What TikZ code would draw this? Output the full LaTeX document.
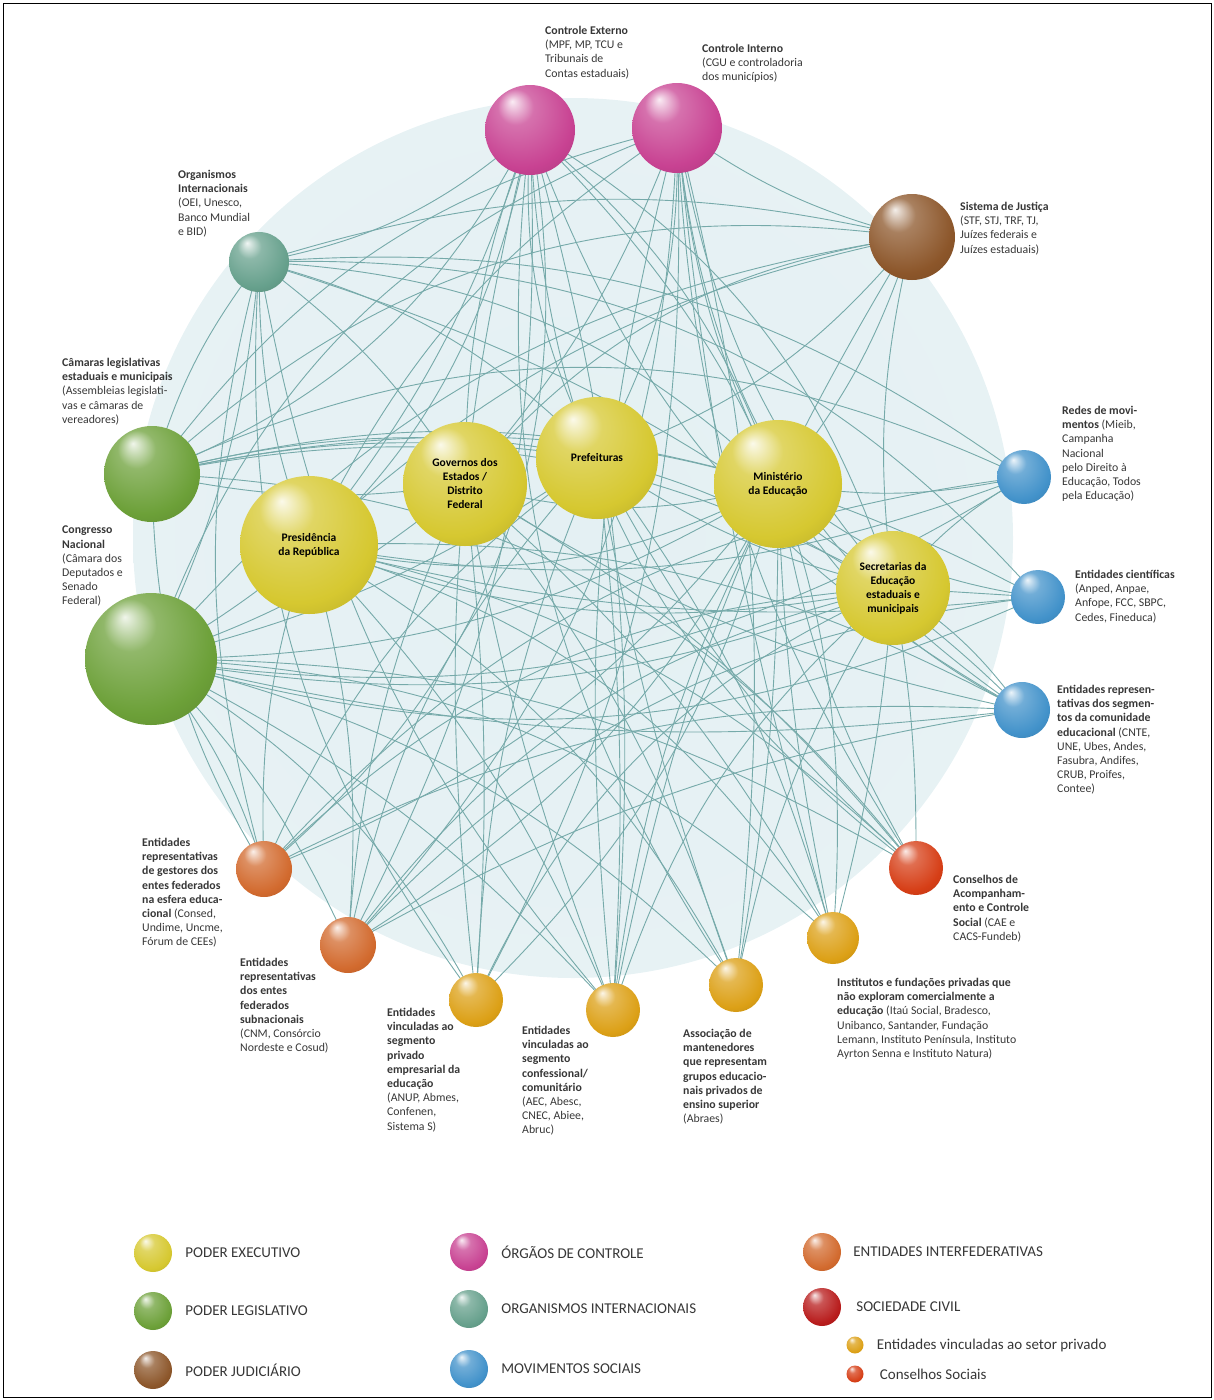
\documentclass[tikz,border=0pt]{standalone}
\usepackage{fontspec}
\setmainfont{Carlito}
\usetikzlibrary{positioning,backgrounds}

\definecolor{linkcol}{RGB}{118,170,170}
\definecolor{haloblue}{RGB}{228,240,243}
\definecolor{cYel}{RGB}{214,200,48}
\definecolor{cMag}{RGB}{200,66,146}
\definecolor{cTea}{RGB}{102,160,140}
\definecolor{cBrn}{RGB}{140,86,42}
\definecolor{cGrn}{RGB}{108,160,56}
\definecolor{cBlu}{RGB}{66,146,202}
\definecolor{cCon}{RGB}{214,62,22}
\definecolor{cGld}{RGB}{220,160,22}
\definecolor{cOrg}{RGB}{210,106,46}
\definecolor{cRed}{RGB}{184,28,28}
\definecolor{txtgray}{RGB}{55,55,55}

% shaded globes
\colorlet{globecol}{cYel}
\pgfdeclareradialshading[globecol]{globe}{\pgfqpoint{-10bp}{16bp}}{%
  color(0bp)=(globecol!10!white);
  color(10bp)=(globecol!75!white);
  color(28bp)=(globecol);
  color(50bp)=(globecol!72!black)}
\pgfdeclareradialshading{halo}{\pgfqpoint{0bp}{0bp}}{%
  color(0bp)=(haloblue); color(34bp)=(haloblue!85!white); color(50bp)=(white)}

\tikzset{
  sph/.style={circle, inner sep=0pt, shading=globe, /utils/exec={\colorlet{globecol}{#1}}},
  link/.style={draw=linkcol, line width=0.9pt},
  lbl/.style={anchor=north west, align=left, inner sep=0pt, text=txtgray,
    font=\fontsize{11.8}{14.2}\selectfont},
  ctr/.style={align=center, text=black, font=\bfseries\fontsize{11.5}{14}\selectfont},
  legtxt/.style={inner sep=0pt, text=txtgray, font=\fontsize{15}{17}\selectfont}
}

\begin{document}
\begin{tikzpicture}[x=1pt, y=-1pt]
\useasboundingbox (0,0) rectangle (1214,1400);

% network spheres
\node[sph=cMag, minimum size=90pt] (ce) at (530,130) {};
\node[sph=cMag, minimum size=90pt] (ci) at (677,128) {};
\node[sph=cTea, minimum size=60pt] (oi) at (259,262) {};
\node[sph=cBrn, minimum size=86pt] (sj) at (912,237) {};
\node[sph=cGrn, minimum size=96pt] (cl) at (152,474) {};
\node[sph=cGrn, minimum size=132pt] (cn) at (151,659) {};
\node[sph=cYel, minimum size=138pt, ctr] (pr) at (309,545) {Presidência\\da República};
\node[sph=cYel, minimum size=124pt, ctr] (ge) at (465,484) {Governos dos\\Estados /\\Distrito\\Federal};
\node[sph=cYel, minimum size=122pt, ctr] (pf) at (597,458) {Prefeituras};
\node[sph=cYel, minimum size=128pt, ctr] (me) at (778,484) {Ministério\\da Educação};
\node[sph=cYel, minimum size=114pt, ctr] (se) at (893,588) {Secretarias da\\Educação\\estaduais e\\municipais};
\node[sph=cBlu, minimum size=54pt] (rm) at (1024,477) {};
\node[sph=cBlu, minimum size=54pt] (ec) at (1038,597) {};
\node[sph=cBlu, minimum size=56pt] (er) at (1022,710) {};
\node[sph=cCon, minimum size=54pt] (cs) at (916,868) {};
\node[sph=cGld, minimum size=52pt] (ins) at (833,938) {};
\node[sph=cGld, minimum size=54pt] (am) at (736,985) {};
\node[sph=cGld, minimum size=54pt] (ev) at (613,1010) {};
\node[sph=cGld, minimum size=54pt] (ep) at (476,1000) {};
\node[sph=cOrg, minimum size=56pt] (es) at (348,945) {};
\node[sph=cOrg, minimum size=56pt] (eg) at (264,869) {};

% links behind the spheres
\begin{pgfonlayer}{background}
  \shade[shading=halo] (573,538) circle[radius=440];
  \foreach \a/\b/\k in {ce/cl/20, ce/cn/25, ce/pr/10, ce/ge/-10, ce/pf/-15, ce/me/15,
      ce/se/20, ce/ep/-10, ce/ev/10, ce/am/-20, ce/ins/25, ce/eg/30, ce/es/15,
      ce/cs/-25, ce/oi/15, ce/er/-20,
      ci/cn/-25, ci/cl/-20, ci/pr/-15, ci/ge/10, ci/pf/15, ci/me/-10, ci/se/-15,
      ci/ev/-10, ci/am/10, ci/ins/-5, ci/es/20, ci/cs/-15, ci/er/-25, ci/sj/-10, ci/ep/15,
      oi/cl/-10, oi/cn/10, oi/pr/-10, oi/ge/10, oi/pf/15, oi/me/20, oi/se/10,
      oi/ec/25, oi/rm/20, oi/sj/15, oi/ep/-20, oi/ev/-15, oi/eg/-15,
      sj/cn/-20, sj/cl/-25, sj/pr/-15, sj/me/10, sj/se/-10, sj/pf/15, sj/ge/-20, sj/ev/-10,
      cl/se/20, cl/rm/25, cl/me/15, cl/pf/10, cl/ge/-10, cl/er/30, cl/eg/-15, cl/ec/20, cl/cs/25,
      cn/se/-15, cn/er/-10, cn/ec/-20, cn/cs/15, cn/ins/20, cn/am/15, cn/ev/10, cn/ep/15,
      cn/es/10, cn/eg/10, cn/me/-15, cn/pf/-10, cn/ge/-10, cn/rm/-20,
      pr/me/-20, pr/se/-15, pr/er/15, pr/ins/20, pr/am/15, pr/ev/10, pr/es/10, pr/eg/-10, pr/cs/15,
      ge/me/-15, ge/am/10, ge/ev/-5, ge/ep/5, ge/cs/10, ge/es/-10, ge/ins/10, ge/er/-10,
      pf/ev/5, pf/am/-5, pf/ep/-10, pf/ins/10, pf/cs/-10, pf/es/-15, pf/eg/-15, pf/se/-10,
      me/ev/-10, me/am/5, me/ep/15, me/es/15, me/eg/15, me/ins/-5, me/cs/-10, me/rm/-10,
      me/ec/-15, me/er/-15,
      se/ev/-15, se/ep/-20, se/es/-20, se/eg/-20, se/am/-10, se/ins/5, se/cs/5, se/rm/10,
      se/ec/0, se/er/10,
      rm/eg/-20, ec/es/-20, er/eg/-15, er/es/-10, rm/pr/15, ec/pr/10}
    \draw[link] (\a.center) to[bend left=\k] (\b.center);
\end{pgfonlayer}

% labels round the circle
\node[lbl] (ce-t) at (545,26) {\textbf{Controle Externo}\\(MPF, MP, TCU e\\Tribunais de\\Contas estaduais)};
\node[lbl] (ci-t) at (702,44) {\textbf{Controle Interno}\\(CGU e controladoria\\dos municípios)};
\node[lbl] (oi-t) at (178,170) {\textbf{Organismos}\\\textbf{Internacionais}\\(OEI, Unesco,\\Banco Mundial\\e BID)};
\node[lbl] (sj-t) at (960,202) {\textbf{Sistema de Justiça}\\(STF, STJ, TRF, TJ,\\Juízes federais e\\Juízes estaduais)};
\node[lbl] (cl-t) at (62,358) {\textbf{Câmaras legislativas}\\\textbf{estaduais e municipais}\\(Assembleias legislati-\\vas e câmaras de\\vereadores)};
\node[lbl] (cn-t) at (62,526) {\textbf{Congresso}\\\textbf{Nacional}\\(Câmara dos\\Deputados e\\Senado\\Federal)};
\node[lbl] (rm-t) at (1062,406) {\textbf{Redes de movi-}\\\textbf{mentos} (Mieib,\\Campanha\\Nacional\\pelo Direito à\\Educação, Todos\\pela Educação)};
\node[lbl] (ec-t) at (1075,570) {\textbf{Entidades científicas}\\(Anped, Anpae,\\Anfope, FCC, SBPC,\\Cedes, Fineduca)};
\node[lbl] (er-t) at (1057,685) {\textbf{Entidades represen-}\\\textbf{tativas dos segmen-}\\\textbf{tos da comunidade}\\\textbf{educacional} (CNTE,\\UNE, Ubes, Andes,\\Fasubra, Andifes,\\CRUB, Proifes,\\Contee)};
\node[lbl] (cs-t) at (953,875) {\textbf{Conselhos de}\\\textbf{Acompanham-}\\\textbf{ento e Controle}\\\textbf{Social} (CAE e\\CACS-Fundeb)};
\node[lbl] (ins-t) at (837,978) {\textbf{Institutos e fundações privadas que}\\\textbf{não exploram comercialmente a}\\\textbf{educação} (Itaú Social, Bradesco,\\Unibanco, Santander, Fundação\\Lemann, Instituto Península, Instituto\\Ayrton Senna e Instituto Natura)};
\node[lbl] (am-t) at (683,1029) {\textbf{Associação de}\\\textbf{mantenedores}\\\textbf{que representam}\\\textbf{grupos educacio-}\\\textbf{nais privados de}\\\textbf{ensino superior}\\(Abraes)};
\node[lbl] (ev-t) at (522,1026) {\textbf{Entidades}\\\textbf{vinculadas ao}\\\textbf{segmento}\\\textbf{confessional/}\\\textbf{comunitário}\\(AEC, Abesc,\\CNEC, Abiee,\\Abruc)};
\node[lbl] (ep-t) at (387,1008) {\textbf{Entidades}\\\textbf{vinculadas ao}\\\textbf{segmento}\\\textbf{privado}\\\textbf{empresarial da}\\\textbf{educação}\\(ANUP, Abmes,\\Confenen,\\Sistema S)};
\node[lbl] (es-t) at (240,958) {\textbf{Entidades}\\\textbf{representativas}\\\textbf{dos entes}\\\textbf{federados}\\\textbf{subnacionais}\\(CNM, Consórcio\\Nordeste e Cosud)};
\node[lbl] (eg-t) at (142,838) {\textbf{Entidades}\\\textbf{representativas}\\\textbf{de gestores dos}\\\textbf{entes federados}\\\textbf{na esfera educa-}\\\textbf{cional} (Consed,\\Undime, Uncme,\\Fórum de CEEs)};

% legend
\node[sph=cYel, minimum size=38pt] (lg-yel) at (153,1253) {};
\node[legtxt, right=13pt of lg-yel] (lg-yel-t) {PODER EXECUTIVO};
\node[sph=cGrn, minimum size=38pt] (lg-grn) at (153,1311) {};
\node[legtxt, right=13pt of lg-grn] (lg-grn-t) {PODER LEGISLATIVO};
\node[sph=cBrn, minimum size=38pt] (lg-brn) at (153,1370) {};
\node[legtxt, right=13pt of lg-brn] (lg-brn-t) {PODER JUDICIÁRIO};
\node[sph=cMag, minimum size=38pt] (lg-mag) at (469,1252) {};
\node[legtxt, right=13pt of lg-mag] (lg-mag-t) {ÓRGÃOS DE CONTROLE};
\node[sph=cTea, minimum size=38pt] (lg-tea) at (469,1309) {};
\node[legtxt, right=13pt of lg-tea] (lg-tea-t) {ORGANISMOS INTERNACIONAIS};
\node[sph=cBlu, minimum size=38pt] (lg-blu) at (469,1369) {};
\node[legtxt, right=13pt of lg-blu] (lg-blu-t) {MOVIMENTOS SOCIAIS};
\node[sph=cOrg, minimum size=38pt] (lg-org) at (822,1252) {};
\node[legtxt, right=12pt of lg-org] (lg-org-t) {ENTIDADES INTERFEDERATIVAS};
\node[sph=cRed, minimum size=38pt] (lg-red) at (822,1307) {};
\node[legtxt, right=15pt of lg-red] (lg-red-t) {SOCIEDADE CIVIL};
\node[sph=cGld, minimum size=17pt] (lg-gld) at (855,1345) {};
\node[legtxt, right=13pt of lg-gld] (lg-gld-t) {Entidades vinculadas ao setor privado};
\node[sph=cCon, minimum size=17pt] (lg-con) at (855,1374) {};
\node[legtxt, right=16pt of lg-con] (lg-con-t) {Conselhos Sociais};

% frame
\draw[line width=0.8pt] (3,3) rectangle (1211,1397);
\end{tikzpicture}
\end{document}
